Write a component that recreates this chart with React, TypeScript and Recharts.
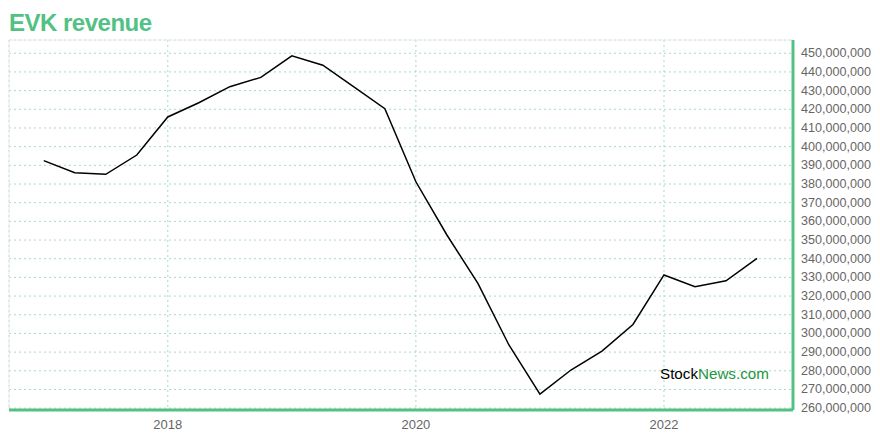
import React from 'react';
import {
  LineChart,
  Line,
  XAxis,
  YAxis,
  CartesianGrid,
  ReferenceArea,
} from 'recharts';

// quarterly revenue, x in fractional years
const quarters = [
  2017, 2017.25, 2017.5, 2017.75,
  2018, 2018.25, 2018.5, 2018.75,
  2019, 2019.25, 2019.5, 2019.75,
  2020, 2020.25, 2020.5, 2020.75,
  2021, 2021.25, 2021.5, 2021.75,
  2022, 2022.25, 2022.5, 2022.75,
];

const revenue = [
  392500000, 386000000, 385200000, 395500000,
  415900000, 423500000, 432100000, 437100000,
  448600000, 443600000, 432000000, 420300000,
  381200000, 352700000, 326800000, 293800000,
  267500000, 280400000, 290500000, 304800000,
  331300000, 325000000, 328200000, 340200000,
];

const yearTicks = [2018, 2020, 2022];

const revenueTicks = [
  260000000, 270000000, 280000000, 290000000, 300000000,
  310000000, 320000000, 330000000, 340000000, 350000000,
  360000000, 370000000, 380000000, 390000000, 400000000,
  410000000, 420000000, 430000000, 440000000, 450000000,
];

const X_DOMAIN: [number, number] = [2016.72, 2023.04];
const Y_DOMAIN: [number, number] = [259000000, 457100000];

const GREEN = '#52c184';
const GRID = '#a6dcbd';
const FONT = '"Liberation Sans", Arial, Helvetica, sans-serif';

const data = quarters.map((t, i) => ({ t, revenue: revenue[i] }));

const numberFormatter = new Intl.NumberFormat('en-US');

const XTick = (props: any) => {
  const { x, y, payload } = props;
  return (
    <text
      x={x}
      y={y + 11}
      textAnchor="middle"
      fill="#666"
      fontSize={13}
      fontFamily={FONT}
    >
      {payload.value}
    </text>
  );
};

const YTick = (props: any) => {
  const { x, y, payload } = props;
  return (
    <text
      x={x}
      y={y + 4}
      textAnchor="start"
      fill="#666"
      fontSize={12}
      fontFamily={FONT}
      textLength={70}
      lengthAdjust="spacingAndGlyphs"
    >
      {numberFormatter.format(payload.value)}
    </text>
  );
};

export default function App() {
  return (
    <div
      style={{
        position: 'absolute',
        left: 0,
        top: 0,
        width: 880,
        height: 440,
        background: '#fff',
        fontFamily: FONT,
      }}
    >
      <div
        style={{
          position: 'absolute',
          left: 9,
          top: 11,
          fontSize: 24,
          lineHeight: '24px',
          letterSpacing: -0.5,
          fontWeight: 'bold',
          color: GREEN,
        }}
      >
        EVK revenue
      </div>

      <LineChart
        width={880}
        height={440}
        data={data}
        margin={{ top: 40, right: 0, bottom: 0, left: 9 }}
      >
        <ReferenceArea
          x1={X_DOMAIN[0]}
          x2={X_DOMAIN[1]}
          y1={Y_DOMAIN[0]}
          y2={Y_DOMAIN[1]}
          fill="none"
          stroke="#ececec"
          strokeWidth={1}
        />
        <CartesianGrid stroke={GRID} strokeDasharray="2 3" />
        <XAxis
          type="number"
          dataKey="t"
          domain={X_DOMAIN}
          ticks={yearTicks}
          interval={0}
          allowDataOverflow
          height={30}
          tickLine={false}
          axisLine={{ stroke: GREEN, strokeWidth: 3 }}
          tick={<XTick />}
        />
        <YAxis
          orientation="right"
          type="number"
          domain={Y_DOMAIN}
          ticks={revenueTicks}
          interval={0}
          allowDataOverflow
          width={87}
          tickLine={false}
          axisLine={{ stroke: GREEN, strokeWidth: 3 }}
          tick={<YTick />}
        />
        <Line
          type="linear"
          dataKey="revenue"
          stroke="#000"
          strokeWidth={1.5}
          dot={false}
          isAnimationActive={false}
        />
      </LineChart>

      <div
        style={{
          position: 'absolute',
          left: 660,
          top: 366,
          fontSize: 15.2,
          lineHeight: '15px',
        }}
      >
        <span style={{ color: '#000' }}>Stock</span>
        <span style={{ color: '#1a9641' }}>News.com</span>
      </div>
    </div>
  );
}
